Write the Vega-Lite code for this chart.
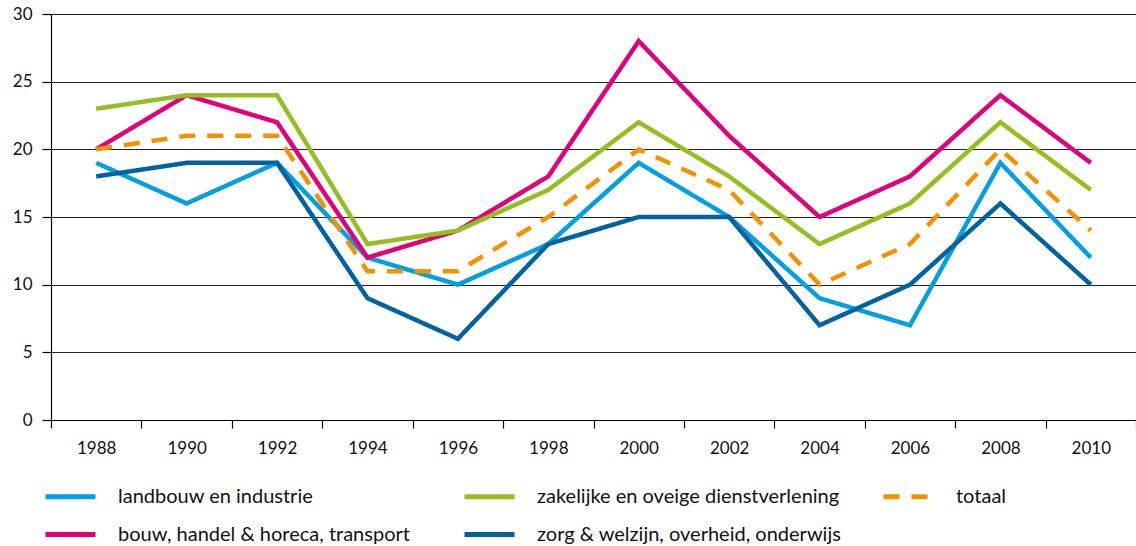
{
  "$schema": "https://vega.github.io/schema/vega-lite/v6.json",
  "autosize": {"type": "none"},
  "padding": {"left": 51, "top": 14, "right": 0, "bottom": 126},
  "width": 1085,
  "height": 406,
  "background": "white",
  "config": {"view": {"stroke": null}, "font": "Lato"},
  "data": {"values": [
    {"year": "1988", "serie": "landbouw en industrie", "value": 19},
    {"year": "1990", "serie": "landbouw en industrie", "value": 16},
    {"year": "1992", "serie": "landbouw en industrie", "value": 19},
    {"year": "1994", "serie": "landbouw en industrie", "value": 12},
    {"year": "1996", "serie": "landbouw en industrie", "value": 10},
    {"year": "1998", "serie": "landbouw en industrie", "value": 13},
    {"year": "2000", "serie": "landbouw en industrie", "value": 19},
    {"year": "2002", "serie": "landbouw en industrie", "value": 15},
    {"year": "2004", "serie": "landbouw en industrie", "value": 9},
    {"year": "2006", "serie": "landbouw en industrie", "value": 7},
    {"year": "2008", "serie": "landbouw en industrie", "value": 19},
    {"year": "2010", "serie": "landbouw en industrie", "value": 12},
    {"year": "1988", "serie": "bouw, handel & horeca, transport", "value": 20},
    {"year": "1990", "serie": "bouw, handel & horeca, transport", "value": 24},
    {"year": "1992", "serie": "bouw, handel & horeca, transport", "value": 22},
    {"year": "1994", "serie": "bouw, handel & horeca, transport", "value": 12},
    {"year": "1996", "serie": "bouw, handel & horeca, transport", "value": 14},
    {"year": "1998", "serie": "bouw, handel & horeca, transport", "value": 18},
    {"year": "2000", "serie": "bouw, handel & horeca, transport", "value": 28},
    {"year": "2002", "serie": "bouw, handel & horeca, transport", "value": 21},
    {"year": "2004", "serie": "bouw, handel & horeca, transport", "value": 15},
    {"year": "2006", "serie": "bouw, handel & horeca, transport", "value": 18},
    {"year": "2008", "serie": "bouw, handel & horeca, transport", "value": 24},
    {"year": "2010", "serie": "bouw, handel & horeca, transport", "value": 19},
    {"year": "1988", "serie": "zakelijke en oveige dienstverlening", "value": 23},
    {"year": "1990", "serie": "zakelijke en oveige dienstverlening", "value": 24},
    {"year": "1992", "serie": "zakelijke en oveige dienstverlening", "value": 24},
    {"year": "1994", "serie": "zakelijke en oveige dienstverlening", "value": 13},
    {"year": "1996", "serie": "zakelijke en oveige dienstverlening", "value": 14},
    {"year": "1998", "serie": "zakelijke en oveige dienstverlening", "value": 17},
    {"year": "2000", "serie": "zakelijke en oveige dienstverlening", "value": 22},
    {"year": "2002", "serie": "zakelijke en oveige dienstverlening", "value": 18},
    {"year": "2004", "serie": "zakelijke en oveige dienstverlening", "value": 13},
    {"year": "2006", "serie": "zakelijke en oveige dienstverlening", "value": 16},
    {"year": "2008", "serie": "zakelijke en oveige dienstverlening", "value": 22},
    {"year": "2010", "serie": "zakelijke en oveige dienstverlening", "value": 17},
    {"year": "1988", "serie": "zorg & welzijn, overheid, onderwijs", "value": 18},
    {"year": "1990", "serie": "zorg & welzijn, overheid, onderwijs", "value": 19},
    {"year": "1992", "serie": "zorg & welzijn, overheid, onderwijs", "value": 19},
    {"year": "1994", "serie": "zorg & welzijn, overheid, onderwijs", "value": 9},
    {"year": "1996", "serie": "zorg & welzijn, overheid, onderwijs", "value": 6},
    {"year": "1998", "serie": "zorg & welzijn, overheid, onderwijs", "value": 13},
    {"year": "2000", "serie": "zorg & welzijn, overheid, onderwijs", "value": 15},
    {"year": "2002", "serie": "zorg & welzijn, overheid, onderwijs", "value": 15},
    {"year": "2004", "serie": "zorg & welzijn, overheid, onderwijs", "value": 7},
    {"year": "2006", "serie": "zorg & welzijn, overheid, onderwijs", "value": 10},
    {"year": "2008", "serie": "zorg & welzijn, overheid, onderwijs", "value": 16},
    {"year": "2010", "serie": "zorg & welzijn, overheid, onderwijs", "value": 10},
    {"year": "1988", "serie": "totaal", "value": 20},
    {"year": "1990", "serie": "totaal", "value": 21},
    {"year": "1992", "serie": "totaal", "value": 21},
    {"year": "1994", "serie": "totaal", "value": 11},
    {"year": "1996", "serie": "totaal", "value": 11},
    {"year": "1998", "serie": "totaal", "value": 15},
    {"year": "2000", "serie": "totaal", "value": 20},
    {"year": "2002", "serie": "totaal", "value": 17},
    {"year": "2004", "serie": "totaal", "value": 10},
    {"year": "2006", "serie": "totaal", "value": 13},
    {"year": "2008", "serie": "totaal", "value": 20},
    {"year": "2010", "serie": "totaal", "value": 14}
  ]},
  "mark": {"type": "line", "strokeWidth": 4.5, "strokeCap": "butt", "strokeJoin": "miter"},
  "encoding": {
    "x": {
      "field": "year", "type": "ordinal", "bandPosition": 0.5,
      "scale": {"type": "band", "paddingInner": 0, "paddingOuter": 0},
      "axis": {
        "title": null, "labelAngle": 0, "tickBand": "extent",
        "tickSize": 8, "tickColor": "#000", "tickWidth": 1.2,
        "domainColor": "#000", "domainWidth": 1.2,
        "labelFontSize": 17, "labelColor": "#111", "labelPadding": 12,
        "grid": false
      }
    },
    "y": {
      "field": "value", "type": "quantitative",
      "scale": {"domain": [0, 30], "nice": false},
      "axis": {
        "title": null, "values": [0, 5, 10, 15, 20, 25, 30],
        "tickSize": 9, "tickColor": "#000", "tickWidth": 1.2,
        "domainColor": "#000", "domainWidth": 1.2,
        "grid": true, "gridColor": "#222", "gridWidth": 1.2,
        "labelFontSize": 17, "labelColor": "#111", "labelPadding": 10
      }
    },
    "color": {
      "field": "serie", "type": "nominal",
      "scale": {
        "domain": ["landbouw en industrie", "zakelijke en oveige dienstverlening", "totaal", "bouw, handel & horeca, transport", "zorg & welzijn, overheid, onderwijs"],
        "range": ["#00a0e2", "#93c01f", "#f39200", "#e2007a", "#0062a0"]
      },
      "legend": {
        "title": null, "orient": "none", "legendX": -8, "legendY": 455,
        "direction": "horizontal", "columns": 3, "gridAlign": "all",
        "columnPadding": 31, "rowPadding": -12,
        "symbolType": "stroke", "symbolSize": 2500, "symbolStrokeWidth": 5,
        "labelFontSize": 20, "labelColor": "#111", "labelOffset": 20, "labelLimit": 400
      }
    },
    "strokeDash": {
      "field": "serie", "type": "nominal",
      "scale": {
        "domain": ["landbouw en industrie", "zakelijke en oveige dienstverlening", "totaal", "bouw, handel & horeca, transport", "zorg & welzijn, overheid, onderwijs"],
        "range": [[1, 0], [1, 0], [16, 12], [1, 0], [1, 0]]
      },
      "legend": null
    }
  }
}
